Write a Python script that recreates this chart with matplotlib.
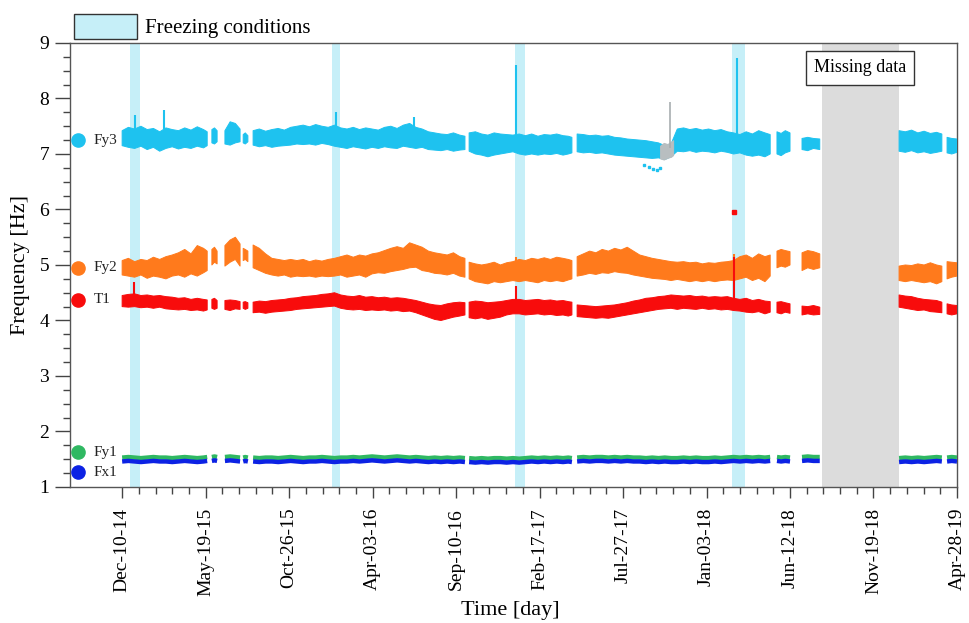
import numpy as np
import matplotlib
matplotlib.use("Agg")
import matplotlib.pyplot as plt
import matplotlib.dates as mdates
from matplotlib.patches import Patch
from matplotlib.ticker import FixedLocator

plt.rcParams['font.family'] = ['Liberation Serif', 'DejaVu Serif']

# day 0 = Dec-10-14; None marks a break in the record
start = np.datetime64('2014-12-10')

days = [0, 12, 24, 36, 48, 60, 72, 84, 96, 108, 120, 132, 144, 156, 163, 167,
        172, 177, 182, 190,
        197, 207, 217, 226, 229,
        232, 236, 241, 246,
        251, 263, 275, 287, 299, 311, 323, 335, 347, 359, 371, 383, 395, 407, 419, 431, 443, 455,
        467, 479, 491, 503, 515, 527, 539, 551, 563, 575, 587, 599, 611, 623, 635, 647, 657, 661,
        665, 677, 689, 701, 713, 725, 737, 749, 761, 773, 785, 797, 809, 821, 833, 845, 855, 862, 867,
        872, 884, 896, 908, 920, 932, 944, 956, 968, 980, 992, 1004, 1016, 1028, 1040, 1052,
        1064, 1076, 1088, 1100, 1112, 1124, 1136, 1148, 1160, 1172, 1184, 1196, 1208, 1220, 1232, 1242, 1248,
        1255, 1263, 1271, 1280, 1291,
        1303, 1314, 1325, 1337, 1413,
        1489, 1501, 1513, 1525, 1537, 1549, 1561, 1571, 1576,
        1581, 1590, 1600]

fy3_lo = [7.15, 7.12, 7.10, 7.14, 7.08, 7.12, 7.05, 7.10, 7.13, 7.09, 7.12, 7.10, 7.14, 7.11, 7.15, None,
          7.20, 7.18, 7.22, None,
          7.18, 7.16, 7.20, 7.22, None,
          7.20, 7.18, 7.22, None,
          7.16, 7.13, 7.15, 7.12, 7.14, 7.15, 7.16, 7.18, 7.17, 7.18, 7.16, 7.19, 7.17, 7.14, 7.12, 7.10, 7.13, 7.11,
          7.09, 7.12, 7.10, 7.13, 7.11, 7.10, 7.14, 7.12, 7.10, 7.12, 7.08, 7.07, 7.06, 7.08, 7.05, 7.07, 7.08, None,
          7.05, 7.00, 6.98, 6.95, 6.98, 7.00, 7.02, 7.04, 7.00, 6.98, 7.00, 6.98, 7.00, 6.99, 7.01, 6.98, 7.00, 7.02, None,
          7.04, 7.02, 7.03, 7.01, 7.02, 7.00, 6.98, 6.97, 6.96, 6.95, 6.94, 6.93, 6.92, 6.93, 6.90, 6.95,
          7.05, 7.04, 7.06, 7.03, 7.05, 7.04, 7.02, 7.05, 7.03, 7.00, 7.02, 6.98, 6.96, 6.98, 6.95, 7.00, None,
          7.00, 6.97, 7.02, 7.05, None,
          7.08, 7.06, 7.10, 7.08, None,
          7.05, 7.03, 7.06, 7.02, 7.04, 7.01, 7.03, 7.05, None,
          7.02, 7.00, 7.03]
fy3_hi = [7.42, 7.48, 7.45, 7.50, 7.44, 7.46, 7.40, 7.47, 7.44, 7.42, 7.47, 7.43, 7.49, 7.44, 7.40, None,
          7.44, 7.47, 7.42, None,
          7.42, 7.58, 7.55, 7.45, None,
          7.35, 7.38, 7.33, None,
          7.42, 7.45, 7.41, 7.44, 7.46, 7.43, 7.48, 7.50, 7.52, 7.49, 7.53, 7.50, 7.48, 7.52, 7.47, 7.45, 7.48, 7.44,
          7.47, 7.45, 7.43, 7.48, 7.50, 7.46, 7.52, 7.55, 7.48, 7.45, 7.40, 7.38, 7.36, 7.35, 7.38, 7.34, 7.32, None,
          7.38, 7.40, 7.36, 7.34, 7.38, 7.36, 7.35, 7.34, 7.36, 7.33, 7.36, 7.32, 7.35, 7.34, 7.36, 7.33, 7.32, 7.30, None,
          7.36, 7.35, 7.33, 7.34, 7.32, 7.33, 7.30, 7.29, 7.27, 7.26, 7.25, 7.24, 7.22, 7.20, 7.15, 7.18,
          7.45, 7.47, 7.44, 7.46, 7.43, 7.45, 7.42, 7.44, 7.40, 7.38, 7.35, 7.40, 7.36, 7.42, 7.38, 7.35, None,
          7.40, 7.37, 7.42, 7.38, None,
          7.28, 7.30, 7.28, 7.27, None,
          7.42, 7.40, 7.43, 7.38, 7.41, 7.37, 7.39, 7.36, None,
          7.30, 7.28, 7.27]

fy2_lo = [4.82, 4.80, 4.78, 4.82, 4.76, 4.80, 4.78, 4.75, 4.80, 4.82, 4.78, 4.84, 4.80, 4.86, 4.90, None,
          5.00, 5.05, 5.02, None,
          4.98, 5.05, 5.10, 4.98, None,
          5.08, 5.10, 5.06, None,
          4.95, 4.90, 4.85, 4.82, 4.80, 4.82, 4.78, 4.80, 4.79, 4.80, 4.78, 4.80, 4.79, 4.80, 4.82, 4.78, 4.80, 4.82,
          4.78, 4.84, 4.86, 4.85, 4.88, 4.90, 4.92, 4.95, 4.96, 4.90, 4.88, 4.85, 4.84, 4.82, 4.85, 4.80, 4.78, None,
          4.75, 4.70, 4.68, 4.66, 4.70, 4.68, 4.70, 4.72, 4.70, 4.72, 4.70, 4.68, 4.72, 4.70, 4.72, 4.70, 4.73, 4.75, None,
          4.80, 4.82, 4.85, 4.83, 4.86, 4.85, 4.88, 4.86, 4.85, 4.82, 4.80, 4.78, 4.76, 4.75, 4.74, 4.72,
          4.74, 4.72, 4.70, 4.72, 4.70, 4.72, 4.70, 4.72, 4.73, 4.72, 4.75, 4.78, 4.72, 4.76, 4.70, 4.80, None,
          4.95, 4.98, 4.96, 5.00, None,
          4.90, 4.95, 4.92, 4.95, None,
          4.72, 4.70, 4.72, 4.70, 4.68, 4.70, 4.66, 4.70, None,
          4.75, 4.78, 4.80]
fy2_hi = [5.08, 5.12, 5.06, 5.10, 5.08, 5.14, 5.10, 5.15, 5.18, 5.22, 5.28, 5.20, 5.35, 5.30, 5.25, None,
          5.28, 5.32, 5.25, None,
          5.35, 5.45, 5.50, 5.38, None,
          5.30, 5.28, 5.25, None,
          5.36, 5.30, 5.20, 5.12, 5.10, 5.08, 5.10, 5.08, 5.10, 5.06, 5.09, 5.07, 5.10, 5.12, 5.15, 5.18, 5.14, 5.18,
          5.16, 5.20, 5.22, 5.26, 5.30, 5.33, 5.30, 5.40, 5.36, 5.32, 5.25, 5.22, 5.20, 5.18, 5.22, 5.15, 5.12, None,
          5.05, 5.02, 5.00, 5.02, 5.05, 5.00, 5.04, 5.06, 5.10, 5.08, 5.12, 5.10, 5.13, 5.10, 5.14, 5.12, 5.10, 5.08, None,
          5.15, 5.20, 5.25, 5.22, 5.28, 5.25, 5.30, 5.27, 5.32, 5.25, 5.18, 5.15, 5.12, 5.10, 5.08, 5.06,
          5.05, 5.06, 5.04, 5.05, 5.02, 5.04, 5.03, 5.05, 5.06, 5.08, 5.15, 5.18, 5.12, 5.20, 5.15, 5.18, None,
          5.25, 5.28, 5.26, 5.24, None,
          5.22, 5.26, 5.24, 5.20, None,
          4.98, 5.00, 4.99, 5.02, 5.00, 5.04, 5.00, 4.98, None,
          5.06, 5.05, 5.04]

t1_lo = [4.25, 4.24, 4.25, 4.23, 4.24, 4.22, 4.24, 4.21, 4.20, 4.19, 4.20, 4.18, 4.19, 4.17, 4.19, None,
         4.22, 4.20, 4.22, None,
         4.20, 4.18, 4.21, 4.20, None,
         4.22, 4.20, 4.22, None,
         4.14, 4.15, 4.13, 4.15, 4.16, 4.17, 4.18, 4.20, 4.21, 4.22, 4.23, 4.24, 4.25, 4.26, 4.22, 4.20, 4.19, 4.20,
         4.18, 4.19, 4.18, 4.19, 4.17, 4.18, 4.16, 4.17, 4.14, 4.10, 4.06, 4.02, 4.00, 4.03, 4.06, 4.08, 4.10, None,
         4.05, 4.03, 4.05, 4.02, 4.04, 4.06, 4.10, 4.12, 4.12, 4.10, 4.11, 4.12, 4.10, 4.11, 4.09, 4.10, 4.08, 4.10, None,
         4.07, 4.06, 4.05, 4.04, 4.05, 4.04, 4.06, 4.08, 4.10, 4.12, 4.14, 4.16, 4.18, 4.20, 4.21, 4.22,
         4.20, 4.22, 4.21, 4.20, 4.22, 4.20, 4.21, 4.19, 4.20, 4.18, 4.17, 4.15, 4.14, 4.16, 4.12, 4.15, None,
         4.14, 4.12, 4.15, 4.13, None,
         4.10, 4.12, 4.10, 4.11, None,
         4.24, 4.22, 4.20, 4.18, 4.19, 4.16, 4.15, 4.14, None,
         4.12, 4.10, 4.12]
t1_hi = [4.45, 4.47, 4.48, 4.45, 4.46, 4.44, 4.45, 4.43, 4.42, 4.40, 4.41, 4.38, 4.40, 4.38, 4.37, None,
         4.38, 4.40, 4.36, None,
         4.36, 4.37, 4.36, 4.34, None,
         4.33, 4.34, 4.32, None,
         4.33, 4.35, 4.34, 4.36, 4.37, 4.38, 4.40, 4.41, 4.43, 4.44, 4.45, 4.47, 4.48, 4.50, 4.46, 4.44, 4.43, 4.45,
         4.42, 4.43, 4.41, 4.42, 4.40, 4.41, 4.40, 4.38, 4.36, 4.33, 4.30, 4.28, 4.27, 4.30, 4.32, 4.33, 4.32, None,
         4.33, 4.35, 4.34, 4.32, 4.33, 4.34, 4.36, 4.38, 4.38, 4.36, 4.37, 4.38, 4.36, 4.37, 4.35, 4.36, 4.34, 4.33, None,
         4.28, 4.27, 4.26, 4.25, 4.26, 4.27, 4.28, 4.30, 4.32, 4.35, 4.37, 4.40, 4.41, 4.43, 4.44, 4.46,
         4.45, 4.44, 4.45, 4.43, 4.44, 4.42, 4.43, 4.42, 4.43, 4.40, 4.38, 4.40, 4.36, 4.38, 4.35, 4.34, None,
         4.33, 4.34, 4.32, 4.30, None,
         4.26, 4.25, 4.27, 4.24, None,
         4.46, 4.44, 4.43, 4.40, 4.38, 4.37, 4.36, 4.33, None,
         4.30, 4.28, 4.27]

fy1 = [1.53, 1.54, 1.53, 1.52, 1.53, 1.54, 1.53, 1.53, 1.52, 1.53, 1.54, 1.53, 1.52, 1.53, 1.54, None,
       1.54, 1.55, 1.54, None,
       1.54, 1.55, 1.54, 1.53, None,
       1.53, 1.54, 1.53, None,
       1.53, 1.52, 1.53, 1.53, 1.52, 1.53, 1.54, 1.53, 1.52, 1.53, 1.53, 1.54, 1.53, 1.52, 1.53, 1.53, 1.54, 1.53,
       1.54, 1.55, 1.54, 1.53, 1.54, 1.55, 1.54, 1.53, 1.54, 1.53, 1.52, 1.53, 1.52, 1.53, 1.52, 1.53, 1.52, None,
       1.52, 1.51, 1.52, 1.51, 1.52, 1.52, 1.51, 1.52, 1.51, 1.52, 1.53, 1.52, 1.53, 1.52, 1.53, 1.52, 1.53, 1.52, None,
       1.53, 1.54, 1.53, 1.54, 1.54, 1.53, 1.54, 1.53, 1.54, 1.53, 1.53, 1.52, 1.53, 1.52, 1.53, 1.52,
       1.52, 1.53, 1.52, 1.53, 1.52, 1.52, 1.53, 1.52, 1.53, 1.54, 1.53, 1.54, 1.53, 1.54, 1.53, 1.54, None,
       1.54, 1.53, 1.54, 1.53, None,
       1.54, 1.55, 1.54, 1.54, None,
       1.52, 1.53, 1.52, 1.53, 1.52, 1.53, 1.54, 1.53, None,
       1.53, 1.54, 1.53]
fx1 = [1.46, 1.47, 1.46, 1.45, 1.46, 1.47, 1.46, 1.46, 1.45, 1.46, 1.47, 1.46, 1.45, 1.46, 1.47, None,
       1.47, 1.48, 1.47, None,
       1.47, 1.48, 1.47, 1.46, None,
       1.46, 1.47, 1.46, None,
       1.46, 1.45, 1.46, 1.46, 1.45, 1.46, 1.47, 1.46, 1.45, 1.46, 1.46, 1.47, 1.46, 1.45, 1.46, 1.46, 1.47, 1.46,
       1.47, 1.48, 1.47, 1.46, 1.47, 1.48, 1.47, 1.46, 1.47, 1.46, 1.45, 1.46, 1.45, 1.46, 1.45, 1.46, 1.45, None,
       1.45, 1.44, 1.45, 1.44, 1.45, 1.45, 1.44, 1.45, 1.44, 1.45, 1.46, 1.45, 1.46, 1.45, 1.46, 1.45, 1.46, 1.45, None,
       1.46, 1.47, 1.46, 1.47, 1.47, 1.46, 1.47, 1.46, 1.47, 1.46, 1.46, 1.45, 1.46, 1.45, 1.46, 1.45,
       1.45, 1.46, 1.45, 1.46, 1.45, 1.45, 1.46, 1.45, 1.46, 1.47, 1.46, 1.47, 1.46, 1.47, 1.46, 1.47, None,
       1.47, 1.46, 1.47, 1.46, None,
       1.47, 1.48, 1.47, 1.47, None,
       1.45, 1.46, 1.45, 1.46, 1.45, 1.46, 1.47, 1.46, None,
       1.46, 1.47, 1.46]

# stretch of Fy3 recorded by the backup channel (grey)
fy3_alt_days = [1031, 1038, 1045, 1052, 1056]
fy3_alt_lo = [6.92, 6.90, 6.93, 6.95, 6.98]
fy3_alt_hi = [7.15, 7.20, 7.18, 7.22, 7.25]
alt_peak_day, alt_peak_lo, alt_peak_hi = 1050, 7.10, 7.94

# short-lived jumps
fy3_jump_days = [24, 80, 410, 560, 755, 1178]
fy3_jump_lo = [7.40, 7.45, 7.45, 7.45, 7.30, 7.30]
fy3_jump_hi = [7.70, 7.79, 7.75, 7.67, 8.60, 8.73]
fy2_jump_days = [755, 1172]
fy2_jump_lo = [5.00, 5.00]
fy2_jump_hi = [5.15, 5.20]
t1_jump_days = [22, 755, 1172]
t1_jump_lo = [4.40, 4.20, 4.25]
t1_jump_hi = [4.70, 4.62, 5.15]

# isolated outliers
fy3_out_days = [1000, 1010, 1018, 1025, 1030]
fy3_out_vals = [6.80, 6.76, 6.73, 6.71, 6.74]
t1_out_days = [1172]
t1_out_vals = [5.95]

freeze_start = [15, 402, 753, 1169]
freeze_end = [34, 418, 772, 1194]
missing_start, missing_end = 1341, 1489

tick_labels = ['Dec-10-14', 'May-19-15', 'Oct-26-15', 'Apr-03-16', 'Sep-10-16', 'Feb-17-17',
               'Jul-27-17', 'Jan-03-18', 'Jun-12-18', 'Nov-19-18', 'Apr-28-19']

names = ['Fy3', 'Fy2', 'T1', 'Fy1', 'Fx1']
name_y = [7.25, 4.95, 4.37, 1.63, 1.27]
c_fy3, c_fy2, c_t1, c_fy1, c_fx1 = '#1ec2ef', '#ff7a1c', '#f80c0c', '#2fb862', '#0c22e4'
name_colors = [c_fy3, c_fy2, c_t1, c_fy1, c_fx1]


def d2n(d):
    d = np.atleast_1d(np.asarray(d))
    return mdates.date2num(start + d.astype('timedelta64[D]'))


def arr(v):
    return np.array(v, dtype=float)


fig = plt.figure(figsize=(9.69, 6.23), dpi=100)
ax = fig.add_axes([0.0722, 0.2183, 0.9154, 0.7127])

x = d2n(days)

for a, b in zip(freeze_start, freeze_end):
    ax.axvspan(d2n(a)[0], d2n(b)[0], color='#c6eff8', lw=0, zorder=0)
ax.axvspan(d2n(missing_start)[0], d2n(missing_end)[0], color='#dcdcdc', lw=0, zorder=0)

for lo, hi, c in [(fy3_lo, fy3_hi, c_fy3), (fy2_lo, fy2_hi, c_fy2), (t1_lo, t1_hi, c_t1)]:
    ax.fill_between(x, arr(lo), arr(hi), color=c, lw=0.7, zorder=3)

ax.plot(x, arr(fy1), color=c_fy1, lw=3.2, zorder=3, solid_capstyle='butt')
ax.plot(x, arr(fx1), color=c_fx1, lw=3.2, zorder=3, solid_capstyle='butt')

ax.fill_between(d2n(fy3_alt_days), fy3_alt_lo, fy3_alt_hi, color='#b8bec0', lw=0.7, zorder=4)
ax.vlines(d2n(alt_peak_day), alt_peak_lo, alt_peak_hi, color='#a8aeb0', lw=1.2, zorder=4)

ax.vlines(d2n(fy3_jump_days), fy3_jump_lo, fy3_jump_hi, color=c_fy3, lw=1.5, zorder=4)
ax.vlines(d2n(fy2_jump_days), fy2_jump_lo, fy2_jump_hi, color=c_fy2, lw=1.5, zorder=4)
ax.vlines(d2n(t1_jump_days), t1_jump_lo, t1_jump_hi, color=c_t1, lw=1.5, zorder=5)
ax.plot(d2n(fy3_out_days), fy3_out_vals, 's', color=c_fy3, ms=1.5, zorder=4)
ax.plot(d2n(t1_out_days), t1_out_vals, 's', color=c_t1, ms=2.5, zorder=5)

# series names at the left margin
for n, yv, c in zip(names, name_y, name_colors):
    ax.plot(d2n(-84), yv, 'o', color=c, ms=9.5, zorder=5, clip_on=False)
    ax.text(d2n(-54)[0], yv, n, fontsize=11, va='center', ha='left', color='#222')

ax.text(d2n((missing_start + missing_end) / 2)[0] - 1, 8.55, 'Missing data', fontsize=13,
        ha='center', va='center', zorder=6,
        bbox=dict(boxstyle='square,pad=0.45', fc='white', ec='#333', lw=1))

ax.set_xlim(d2n(-100)[0], d2n(1600)[0])
ax.set_ylim(1, 9)

tick_dates = [np.datetime64(mdates.datetime.datetime.strptime(t, '%b-%d-%y').date()) for t in tick_labels]
ax.set_xticks(mdates.date2num(np.array(tick_dates, dtype='datetime64[D]')))
ax.set_xticklabels(tick_labels, rotation=90)
ax.xaxis.set_minor_locator(FixedLocator(d2n(np.arange(0, 1601, 32))))
ax.set_yticks(np.arange(1, 10))
ax.yaxis.set_minor_locator(FixedLocator(np.arange(1, 9.01, 0.25)))

ax.tick_params(axis='y', which='major', length=11, width=1, labelsize=14, pad=4, color='#444')
ax.tick_params(axis='y', which='minor', length=5, width=1, color='#444')
ax.tick_params(axis='x', which='major', length=8, width=1, labelsize=14, pad=7, color='#444')
ax.tick_params(axis='x', which='minor', length=5, width=1, color='#444')
for s in ax.spines.values():
    s.set_color('#555')
    s.set_linewidth(1)

ax.set_ylabel('Frequency [Hz]', fontsize=16)
ax.yaxis.set_label_coords(-0.045, 0.5)
ax.set_xlabel('Time [day]', fontsize=16)
ax.xaxis.set_label_coords(0.496, -0.256)

ax.legend(handles=[Patch(facecolor='#c6eff8', edgecolor='#333', label='Freezing conditions')],
          loc='lower left', bbox_to_anchor=(0.0, 1.0), frameon=False, fontsize=15,
          handlelength=3.0, handleheight=1.45, borderpad=0.15, borderaxespad=0.05, handletextpad=0.4)

fig.savefig('out.png', dpi=100)
